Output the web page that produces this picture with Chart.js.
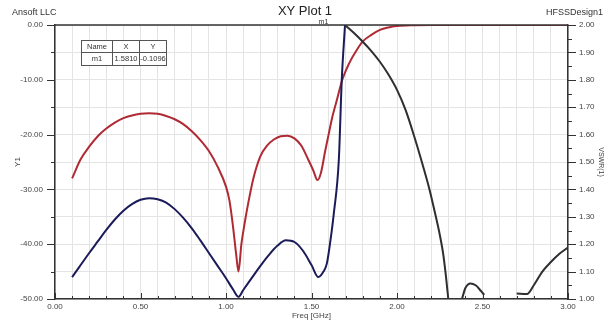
<!DOCTYPE html>
<html>
<head>
<meta charset="utf-8">
<script src="https://cdn.jsdelivr.net/npm/chart.js@4.4.1/dist/chart.umd.min.js"></script>
<style>
html,body{margin:0;padding:0;background:#fff;}
</style>
</head>
<body>
<canvas id="xyplot" width="610" height="325"></canvas>
<script>
// red trace (Y1, dB)
const redFreq = [0.10,0.15,0.20,0.25,0.30,0.35,0.40,0.45,0.50,0.55,0.60,0.65,0.70,0.75,0.80,0.85,0.90,0.95,1.00,1.02,1.04,1.06,1.073,1.09,1.11,1.13,1.16,1.20,1.24,1.28,1.32,1.36,1.40,1.44,1.48,1.51,1.535,1.555,1.58,1.60,1.62,1.65,1.68,1.72,1.76,1.80,1.85,1.90,1.95,2.00,2.10,2.20,2.50,3.00];
const redDb = [-28,-24.5,-22.2,-20.3,-18.9,-17.8,-17.0,-16.5,-16.2,-16.1,-16.2,-16.6,-17.2,-18.1,-19.4,-21.0,-23.0,-25.8,-29.5,-32,-36.5,-42,-45,-40,-36,-32.5,-28,-24,-22,-20.9,-20.3,-20.2,-20.7,-22,-24.5,-26.5,-28.3,-27,-23,-20,-17,-13.5,-10,-7,-4.8,-3.0,-1.8,-0.9,-0.45,-0.2,-0.05,0,0,0];

// navy trace (Y1, dB)
const navyFreq = [0.10,0.15,0.20,0.25,0.30,0.35,0.40,0.45,0.50,0.55,0.60,0.65,0.70,0.75,0.80,0.85,0.90,0.95,1.00,1.04,1.073,1.10,1.15,1.20,1.25,1.30,1.35,1.40,1.45,1.50,1.54,1.57,1.59,1.61,1.63,1.66,1.677,1.696];
const navyDb = [-46,-43.8,-41.6,-39.5,-37.4,-35.5,-33.9,-32.7,-31.9,-31.6,-31.8,-32.4,-33.6,-35.2,-37.1,-39.3,-41.6,-43.9,-46.2,-48.2,-49.6,-48.4,-46.2,-44.0,-42.0,-40.3,-39.3,-39.6,-41.2,-43.8,-46.0,-45.0,-43.5,-39.5,-34.5,-24.5,-10,0];

// VSWR(1) trace, right axis (null = gap)
const vswrFreq = [1.696,1.75,1.80,1.85,1.90,1.95,2.00,2.05,2.10,2.15,2.19,2.22,2.25,2.27,2.285,2.295,2.30,2.34,2.38,2.40,2.43,2.46,2.49,2.51,2.60,2.70,2.76,2.80,2.85,2.90,2.95,3.00];
const vswr = [2.0,1.97,1.939,1.905,1.866,1.819,1.763,1.69,1.595,1.49,1.40,1.32,1.235,1.165,1.09,1.03,1.0,null,1.0,1.04,1.057,1.05,1.03,1.015,null,1.02,1.018,1.05,1.10,1.135,1.165,1.188];

// marker table
const markerName = 'm1';
const markerX = '1.5810';
const markerY = '-0.1096';
const markerFreq = 1.57;

const FONT = 'Liberation Sans';

function pts(xs, ys){
    return xs.map((x, i) => ({x: x, y: ys[i]}));
}

const framePlugin = {
    id: 'frame',
    afterDraw(chart){
        const ctx = chart.ctx;
        const a = chart.chartArea;
        const sx = chart.scales.x, sy = chart.scales.y, sy2 = chart.scales.y2;
        ctx.save();
        // top frame line
        ctx.strokeStyle = '#333';
        ctx.lineWidth = 1.5;
        ctx.beginPath();
        ctx.moveTo(a.left, a.top);
        ctx.lineTo(a.right, a.top);
        ctx.stroke();

        // tick marks
        ctx.lineWidth = 1;
        ctx.strokeStyle = '#333';
        ctx.beginPath();
        for(let i = 0; i <= 30; i++){
            const px = Math.round(sx.getPixelForValue(i/10)) + 0.5;
            const len = (i % 5 == 0) ? 6 : 3;
            ctx.moveTo(px, a.bottom);
            ctx.lineTo(px, a.bottom - len);
        }
        for(let i = 0; i <= 10; i++){
            const py = Math.round(sy.getPixelForValue(-50 + i*5)) + 0.5;
            const len = (i % 2 == 0) ? 8 : 4;
            ctx.moveTo(a.left, py);
            ctx.lineTo(a.left - len, py);
        }
        for(let i = 0; i <= 20; i++){
            const py = Math.round(sy2.getPixelForValue(1 + i*0.05)) + 0.5;
            const len = (i % 2 == 0) ? 8 : 4;
            ctx.moveTo(a.right, py);
            ctx.lineTo(a.right + len, py);
        }
        ctx.stroke();

        // corner labels
        ctx.fillStyle = '#333';
        ctx.font = '9px ' + FONT;
        ctx.textBaseline = 'middle';
        ctx.textAlign = 'left';
        ctx.fillText('Ansoft LLC', 12, 13);
        ctx.textAlign = 'right';
        ctx.fillText('HFSSDesign1', 603, 13);

        // marker label
        ctx.font = '7px ' + FONT;
        ctx.textAlign = 'center';
        ctx.fillText(markerName, sx.getPixelForValue(markerFreq), a.top - 3);

        // marker table
        const tx = 81, ty = 40, cols = [0, 31, 58, 85], rows = [0, 12, 25];
        ctx.fillStyle = '#fff';
        ctx.fillRect(tx, ty, cols[3], rows[2]);
        ctx.strokeStyle = '#555';
        ctx.lineWidth = 1;
        ctx.strokeRect(tx + 0.5, ty + 0.5, cols[3], rows[2]);
        ctx.beginPath();
        ctx.moveTo(tx, ty + rows[1] + 0.5);
        ctx.lineTo(tx + cols[3], ty + rows[1] + 0.5);
        [1, 2].forEach(c => {
            ctx.moveTo(tx + cols[c] + 0.5, ty);
            ctx.lineTo(tx + cols[c] + 0.5, ty + rows[2]);
        });
        ctx.stroke();
        ctx.fillStyle = '#333';
        ctx.font = '7.5px ' + FONT;
        const head = ['Name', 'X', 'Y'];
        const vals = [markerName, markerX, markerY];
        for(let c = 0; c < 3; c++){
            const cx = tx + (cols[c] + cols[c+1]) / 2 + 0.5;
            ctx.fillText(head[c], cx, ty + rows[1] / 2 + 0.5);
            ctx.fillText(vals[c], cx, ty + (rows[1] + rows[2]) / 2 + 0.5);
        }
        ctx.restore();
    }
};

const ctx = document.getElementById('xyplot').getContext('2d');
const xyChart = new Chart(ctx, {
    type: 'line',
    data: {
        datasets: [{
            label: 'VSWR(1)',
            data: pts(vswrFreq, vswr),
            yAxisID: 'y2',
            borderColor: '#2e2e33',
            borderWidth: 2,
            pointRadius: 0,
            cubicInterpolationMode: 'monotone',
            spanGaps: false
        }, {
            label: 'navy',
            data: pts(navyFreq, navyDb),
            yAxisID: 'y',
            borderColor: '#1b1b5a',
            borderWidth: 2,
            pointRadius: 0,
            cubicInterpolationMode: 'monotone'
        }, {
            label: 'red',
            data: pts(redFreq, redDb),
            yAxisID: 'y',
            borderColor: '#b02a34',
            borderWidth: 2,
            pointRadius: 0,
            cubicInterpolationMode: 'monotone'
        }]
    },
    options: {
        responsive: false,
        animation: false,
        devicePixelRatio: 1,
        layout: { padding: 0 },
        plugins: {
            legend: { display: false },
            tooltip: { enabled: false },
            title: {
                display: true,
                text: 'XY Plot 1',
                color: '#222',
                font: { family: FONT, size: 13, weight: 'normal' },
                padding: { top: 4, bottom: 5.4 }
            }
        },
        scales: {
            x: {
                type: 'linear',
                position: 'bottom',
                min: 0,
                max: 3,
                afterFit: s => { s.height = 26; },
                ticks: {
                    stepSize: 0.1,
                    autoSkip: false,
                    maxRotation: 0,
                    padding: 3,
                    color: '#444',
                    font: { family: FONT, size: 8 },
                    callback: v => (Math.abs(v*2 - Math.round(v*2)) < 1e-6) ? v.toFixed(2) : ''
                },
                grid: { color: '#e4e4e4', drawTicks: false },
                border: { color: '#333', width: 1.5 },
                title: {
                    display: true,
                    text: 'Freq [GHz]',
                    color: '#444',
                    font: { family: FONT, size: 8 },
                    padding: { top: 0, bottom: 4.2 }
                }
            },
            y: {
                position: 'left',
                min: -50,
                max: 0,
                afterFit: s => { s.width = 55; },
                ticks: {
                    stepSize: 5,
                    padding: 12,
                    color: '#444',
                    font: { family: FONT, size: 8 },
                    callback: v => (v % 10 == 0) ? v.toFixed(2) : ''
                },
                grid: { color: '#e4e4e4', drawTicks: false },
                border: { color: '#333', width: 1.5 },
                title: {
                    display: true,
                    text: 'Y1',
                    color: '#444',
                    font: { family: FONT, size: 8 },
                    padding: { top: 13, bottom: 0 }
                }
            },
            y2: {
                position: 'right',
                min: 1,
                max: 2,
                afterFit: s => { s.width = 42; },
                ticks: {
                    stepSize: 0.1,
                    padding: 11,
                    color: '#444',
                    font: { family: FONT, size: 8 },
                    callback: v => v.toFixed(2)
                },
                grid: { drawOnChartArea: false, drawTicks: false },
                border: { color: '#333', width: 1.5 },
                title: {
                    display: true,
                    text: 'VSWR(1)',
                    color: '#444',
                    font: { family: FONT, size: 7 },
                    padding: { top: 5, bottom: 0 }
                }
            }
        }
    },
    plugins: [framePlugin]
});
</script>
</body>
</html>
